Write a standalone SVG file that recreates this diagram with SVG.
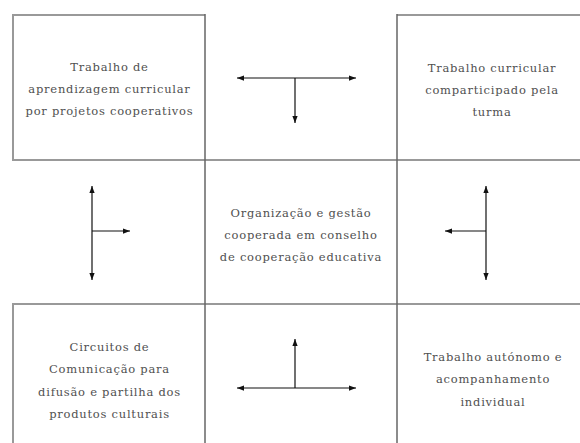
<svg xmlns="http://www.w3.org/2000/svg" width="580" height="443" viewBox="0 0 580 443">
  <defs>
    <marker id="ah" viewBox="0 0 8 6" refX="8" refY="3" markerWidth="7" markerHeight="5.5" markerUnits="userSpaceOnUse" orient="auto-start-reverse">
      <path d="M0,0 L8,3 L0,6 z" fill="#111"/>
    </marker>
    <style>
      .edge { stroke: #999; stroke-width: 2; fill: none; }
      .vert { stroke: #666; stroke-width: 1.5; fill: none; }
      .lbl { font-family: "DejaVu Serif", "Liberation Serif", serif; font-size: 11.5px; letter-spacing: 0.75px; fill: #505050; text-anchor: middle; }
      .arr { stroke: #111; stroke-width: 1.2; fill: none; }
    </style>
  </defs>
  <rect width="580" height="443" fill="#fff"/>

  <g id="frame">
    <line class="edge" x1="13" y1="15" x2="205" y2="15"/>
    <line class="edge" x1="397" y1="15" x2="580" y2="15"/>
    <line class="edge" x1="13" y1="160" x2="580" y2="160"/>
    <line class="edge" x1="13" y1="304" x2="580" y2="304"/>
    <line class="edge" x1="13" y1="14" x2="13" y2="161"/>
    <line class="edge" x1="13" y1="303" x2="13" y2="443"/>
    <line class="vert" x1="205" y1="14" x2="205" y2="443"/>
    <line class="vert" x1="397" y1="14" x2="397" y2="443"/>
  </g>

  <g id="node-top-left">
    <text class="lbl" x="109.5" y="71">Trabalho de</text>
    <text class="lbl" x="109.5" y="93">aprendizagem curricular</text>
    <text class="lbl" x="109.5" y="115">por projetos cooperativos</text>
  </g>

  <g id="node-top-right">
    <text class="lbl" x="492" y="72">Trabalho curricular</text>
    <text class="lbl" x="492" y="94">comparticipado pela</text>
    <text class="lbl" x="492" y="116">turma</text>
  </g>

  <g id="node-center">
    <text class="lbl" x="301" y="217">Organização e gestão</text>
    <text class="lbl" x="301" y="239">cooperada em conselho</text>
    <text class="lbl" x="301" y="261">de cooperação educativa</text>
  </g>

  <g id="node-bottom-left">
    <text class="lbl" x="109.5" y="351">Circuitos de</text>
    <text class="lbl" x="109.5" y="373">Comunicação para</text>
    <text class="lbl" x="109.5" y="396">difusão e partilha dos</text>
    <text class="lbl" x="109.5" y="418">produtos culturais</text>
  </g>

  <g id="node-bottom-right">
    <text class="lbl" x="493" y="361">Trabalho autónomo e</text>
    <text class="lbl" x="493" y="383">acompanhamento</text>
    <text class="lbl" x="493" y="406">individual</text>
  </g>

  <g id="connectors">
    <line class="arr" x1="237" y1="78" x2="356" y2="78" marker-start="url(#ah)" marker-end="url(#ah)"/>
    <line class="arr" x1="295" y1="78" x2="295" y2="123" marker-end="url(#ah)"/>

    <line class="arr" x1="92" y1="186" x2="92" y2="280" marker-start="url(#ah)" marker-end="url(#ah)"/>
    <line class="arr" x1="92" y1="231" x2="130" y2="231" marker-end="url(#ah)"/>

    <line class="arr" x1="486" y1="186" x2="486" y2="280" marker-start="url(#ah)" marker-end="url(#ah)"/>
    <line class="arr" x1="486" y1="231" x2="445" y2="231" marker-end="url(#ah)"/>

    <line class="arr" x1="237" y1="388" x2="356" y2="388" marker-start="url(#ah)" marker-end="url(#ah)"/>
    <line class="arr" x1="295" y1="388" x2="295" y2="339" marker-end="url(#ah)"/>
  </g>
</svg>
